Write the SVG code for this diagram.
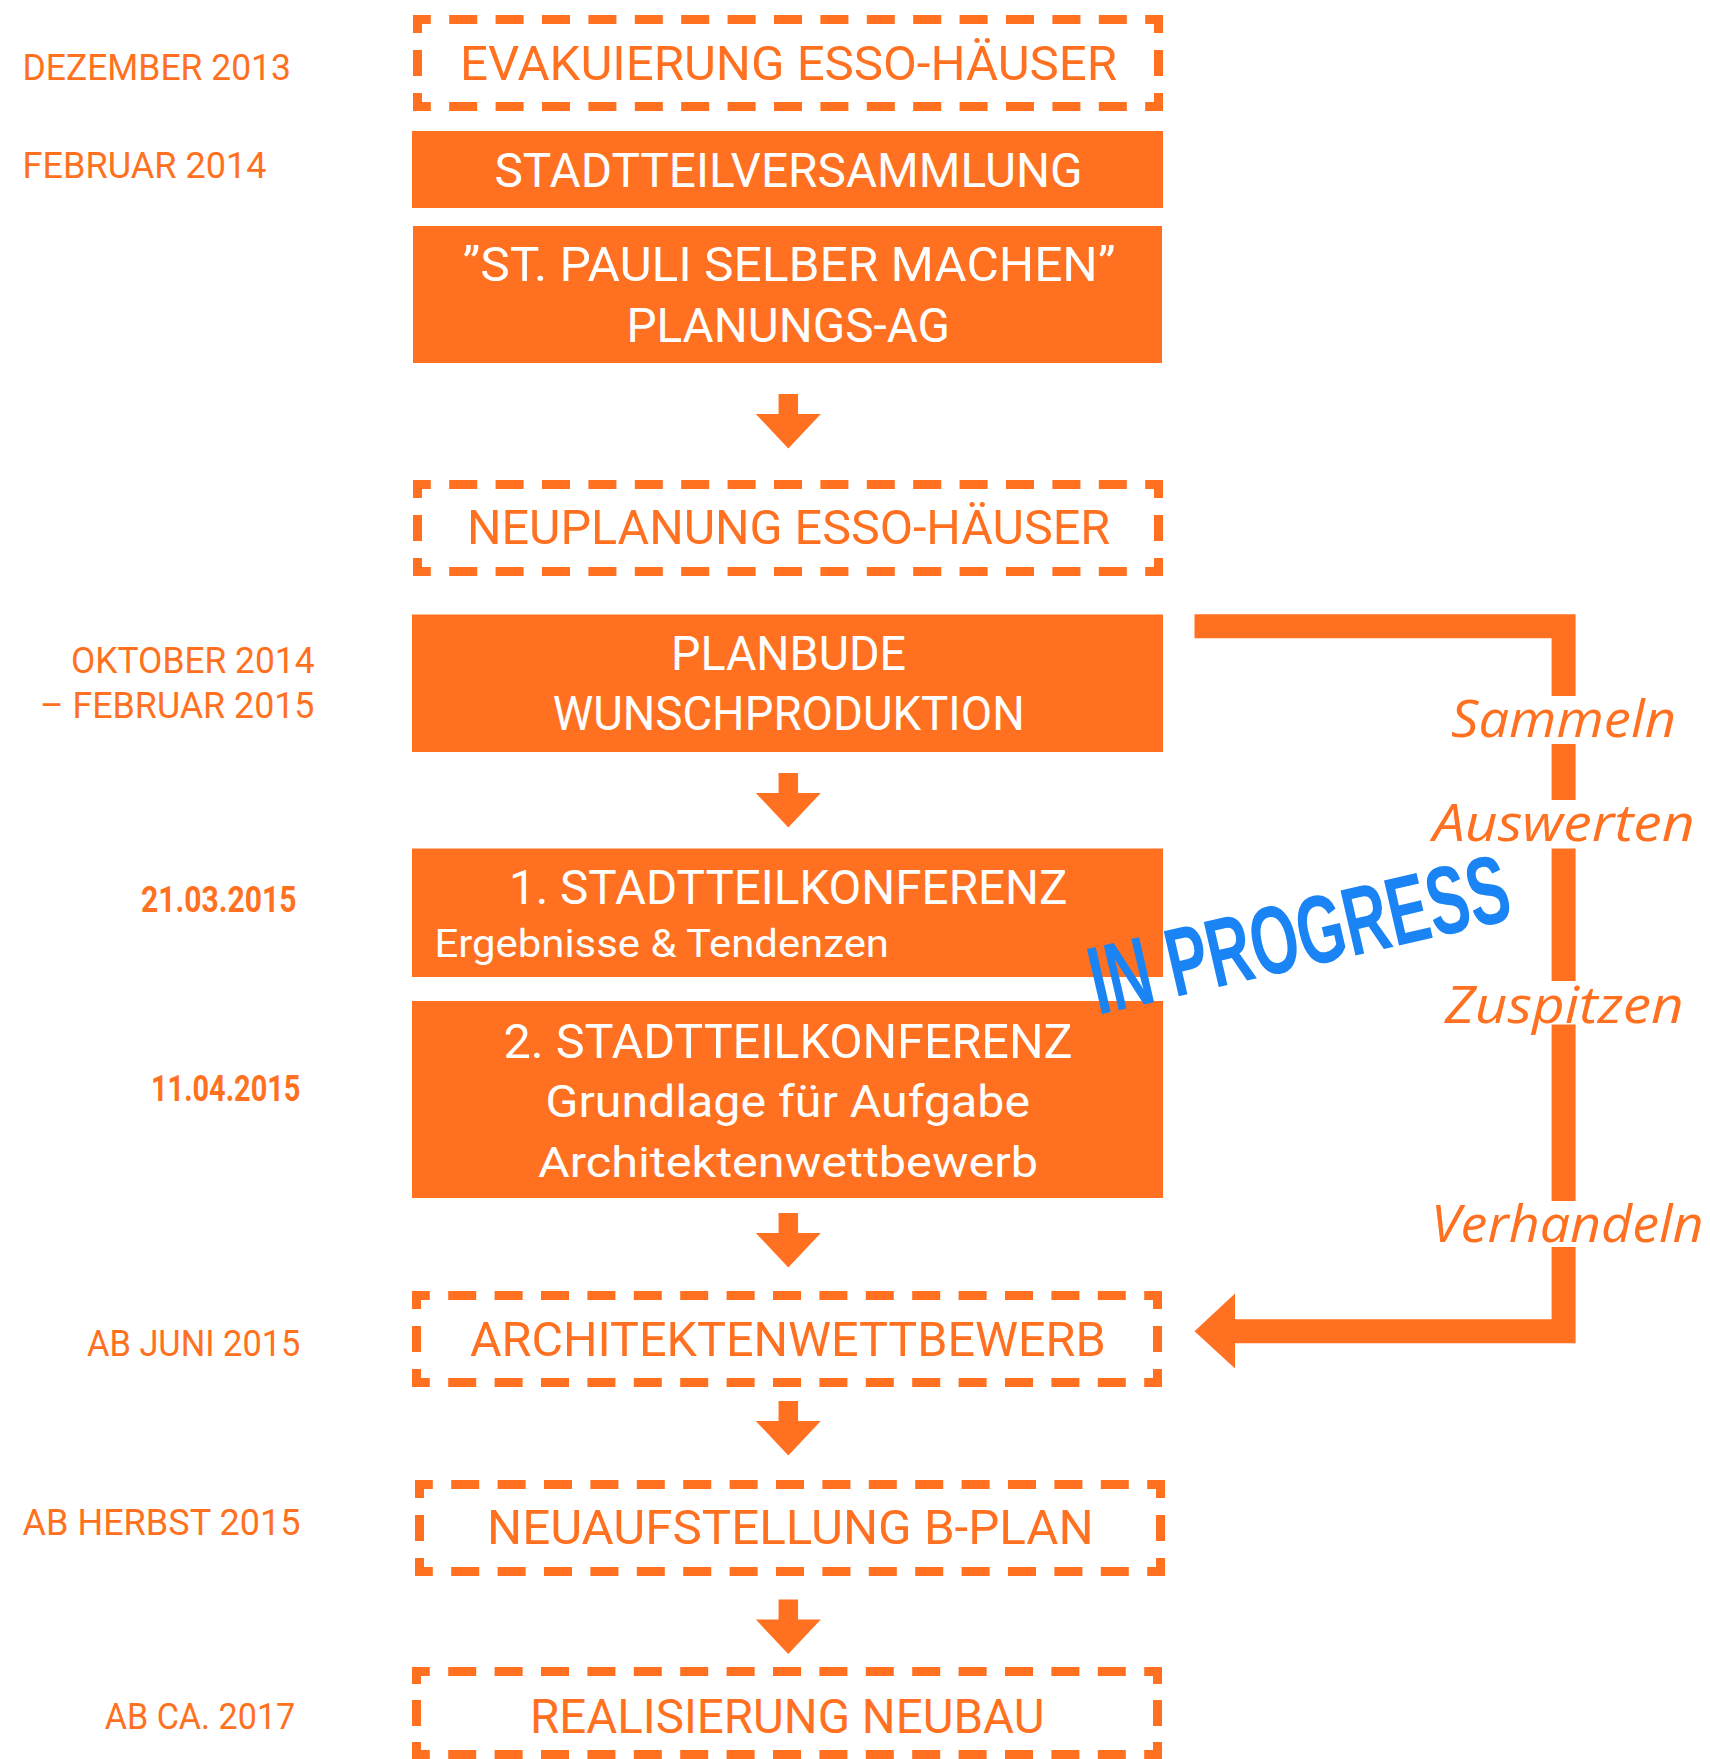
<svg xmlns="http://www.w3.org/2000/svg" xmlns:xlink="http://www.w3.org/1999/xlink" width="1710" height="1759" viewBox="0 0 1710 1759">
<style>
.box{fill:#FF7121}
.fr line{stroke:#FF7121;stroke-width:9;fill:none}
.h{stroke-dasharray:28 18.4;stroke-dashoffset:10.2}
.v{stroke-dasharray:18 17 26 17 18}
.t{font-family:Roboto,"Liberation Sans",sans-serif;font-size:48px}
.d{font-family:Roboto,"Liberation Sans",sans-serif;font-size:36px;fill:#FF7121}
.db{font-weight:bold}
.w{fill:#FFFFFF}
.o{fill:#FF7121}
.lab{font-family:"Open Sans","DejaVu Sans",sans-serif;font-style:italic;font-size:52px;fill:#FF7121}
.con{fill:none;stroke:#FF7121;stroke-width:24;stroke-linejoin:miter}
.arr{fill:#FF7121}
</style>
<defs>
<path id="arr" d="M-9.75,0 H9.75 V20 H32.5 L0,54.5 L-32.5,20 H-9.75 Z"/>
</defs>
<rect width="1710" height="1759" fill="#FFFFFF"/>

<g id="dates">
<text class="d" x="22.5" y="80" textLength="268.5" lengthAdjust="spacingAndGlyphs">DEZEMBER 2013</text>
<text class="d" x="22.5" y="178.3" textLength="244" lengthAdjust="spacingAndGlyphs">FEBRUAR 2014</text>
<text class="d" x="71" y="672.8" textLength="243.5" lengthAdjust="spacingAndGlyphs">OKTOBER 2014</text>
<text class="d" x="40" y="718" textLength="274.5" lengthAdjust="spacingAndGlyphs">– FEBRUAR 2015</text>
<text class="d db" x="141" y="912.4" textLength="155.4" lengthAdjust="spacingAndGlyphs">21.03.2015</text>
<text class="d db" x="151" y="1100.5" textLength="149.4" lengthAdjust="spacingAndGlyphs">11.04.2015</text>
<text class="d" x="87" y="1356.2" textLength="213.4" lengthAdjust="spacingAndGlyphs">AB JUNI 2015</text>
<text class="d" x="22.5" y="1535" textLength="278" lengthAdjust="spacingAndGlyphs">AB HERBST 2015</text>
<text class="d" x="104.7" y="1729.4" textLength="190.6" lengthAdjust="spacingAndGlyphs">AB CA. 2017</text>
</g>

<g id="n-evakuierung">
<g class="fr" transform="translate(413,15)">
<line class="h" x1="0" y1="4.5" x2="750" y2="4.5"/><line class="h" x1="0" y1="91.5" x2="750" y2="91.5"/>
<line class="v" x1="4.5" y1="0" x2="4.5" y2="96"/><line class="v" x1="745.5" y1="0" x2="745.5" y2="96"/>
</g>
<text class="t o" x="460" y="80.1" textLength="657" lengthAdjust="spacingAndGlyphs">EVAKUIERUNG ESSO-HÄUSER</text>
</g>

<g id="n-stadtteilversammlung">
<rect class="box" x="412" y="131" width="751" height="77"/>
<text class="t w" x="494.5" y="187" textLength="588" lengthAdjust="spacingAndGlyphs">STADTTEILVERSAMMLUNG</text>
</g>

<g id="n-planungs-ag">
<rect class="box" x="413" y="226" width="749" height="137"/>
<text class="t w" x="462.5" y="281" textLength="653" lengthAdjust="spacingAndGlyphs">”ST. PAULI SELBER MACHEN”</text>
<text class="t w" x="626.4" y="341.6" textLength="323.6" lengthAdjust="spacingAndGlyphs">PLANUNGS-AG</text>
</g>

<g id="n-neuplanung">
<g class="fr" transform="translate(413,480)">
<line class="h" x1="0" y1="4.5" x2="750" y2="4.5"/><line class="h" x1="0" y1="91.5" x2="750" y2="91.5"/>
<line class="v" x1="4.5" y1="0" x2="4.5" y2="96"/><line class="v" x1="745.5" y1="0" x2="745.5" y2="96"/>
</g>
<text class="t o" x="467" y="544.4" textLength="643" lengthAdjust="spacingAndGlyphs">NEUPLANUNG ESSO-HÄUSER</text>
</g>

<g id="n-planbude">
<rect class="box" x="412" y="614.5" width="751" height="137.5"/>
<text class="t w" x="671" y="670" textLength="235" lengthAdjust="spacingAndGlyphs">PLANBUDE</text>
<text class="t w" x="552.7" y="730" textLength="472" lengthAdjust="spacingAndGlyphs">WUNSCHPRODUKTION</text>
</g>

<g id="n-konferenz1">
<rect class="box" x="412" y="848.5" width="751" height="128.5"/>
<text class="t w" x="509" y="904" textLength="558.5" lengthAdjust="spacingAndGlyphs">1. STADTTEILKONFERENZ</text>
<text class="t w" x="434.5" y="956.8" style="font-size:39px" textLength="454.5" lengthAdjust="spacingAndGlyphs">Ergebnisse &amp; Tendenzen</text>
</g>

<g id="n-konferenz2">
<rect class="box" x="412" y="1001" width="751" height="197"/>
<text class="t w" x="503.6" y="1057.6" textLength="569" lengthAdjust="spacingAndGlyphs">2. STADTTEILKONFERENZ</text>
<text class="t w" x="545.5" y="1116.7" style="font-size:44px" textLength="484.5" lengthAdjust="spacingAndGlyphs">Grundlage für Aufgabe</text>
<text class="t w" x="538" y="1176.7" style="font-size:43px" textLength="500" lengthAdjust="spacingAndGlyphs">Architektenwettbewerb</text>
</g>

<g id="n-architektenwettbewerb">
<g class="fr" transform="translate(412,1291)">
<line class="h" x1="0" y1="4.5" x2="750" y2="4.5"/><line class="h" x1="0" y1="91.5" x2="750" y2="91.5"/>
<line class="v" x1="4.5" y1="0" x2="4.5" y2="96"/><line class="v" x1="745.5" y1="0" x2="745.5" y2="96"/>
</g>
<text class="t o" x="470" y="1356.2" textLength="635.6" lengthAdjust="spacingAndGlyphs">ARCHITEKTENWETTBEWERB</text>
</g>

<g id="n-bplan">
<g class="fr" transform="translate(415,1480)">
<line class="h" x1="0" y1="4.5" x2="750" y2="4.5"/><line class="h" x1="0" y1="91.5" x2="750" y2="91.5"/>
<line class="v" x1="4.5" y1="0" x2="4.5" y2="96"/><line class="v" x1="745.5" y1="0" x2="745.5" y2="96"/>
</g>
<text class="t o" x="487" y="1544.3" textLength="606.6" lengthAdjust="spacingAndGlyphs">NEUAUFSTELLUNG B-PLAN</text>
</g>

<g id="n-realisierung">
<g class="fr" transform="translate(412,1667)">
<line class="h" x1="0" y1="4.5" x2="750" y2="4.5"/><line class="h" x1="0" y1="87.5" x2="750" y2="87.5"/>
<line x1="4.5" y1="0" x2="4.5" y2="92" style="stroke-dasharray:17 16 26 16 17"/><line x1="745.5" y1="0" x2="745.5" y2="92" style="stroke-dasharray:17 16 26 16 17"/>
</g>
<text class="t o" x="530" y="1733.2" textLength="514.5" lengthAdjust="spacingAndGlyphs">REALISIERUNG NEUBAU</text>
</g>

<g id="connectors">
<use xlink:href="#arr" class="arr" transform="translate(788.3,394)"/>
<use xlink:href="#arr" class="arr" transform="translate(788.3,773)"/>
<use xlink:href="#arr" class="arr" transform="translate(788.3,1213)"/>
<use xlink:href="#arr" class="arr" transform="translate(788.3,1401)"/>
<use xlink:href="#arr" class="arr" transform="translate(788.3,1599.6)"/>
<path class="con" d="M1194.5,626.3 H1563.6 V696"/>
<path class="con" d="M1563.6,744 V800"/>
<path class="con" d="M1563.6,848.5 V981"/>
<path class="con" d="M1563.6,1024.5 V1201"/>
<path class="con" d="M1563.6,1247 V1331.2 H1234"/>
<polygon class="arr" points="1194.5,1331.2 1235,1293.4 1235,1368.6"/>
<text class="lab" x="1451" y="736.7" textLength="225" lengthAdjust="spacingAndGlyphs">Sammeln</text>
<text class="lab" x="1432.7" y="841.3" textLength="262" lengthAdjust="spacingAndGlyphs">Auswerten</text>
<text class="lab" x="1444.7" y="1022.7" textLength="239" lengthAdjust="spacingAndGlyphs">Zuspitzen</text>
<text class="lab" x="1431" y="1241.5" textLength="272.6" lengthAdjust="spacingAndGlyphs">Verhandeln</text>
</g>

<g id="stamp">
<text transform="translate(1098,1015) rotate(-13)" x="0" y="0" font-family="'Liberation Sans',Arial,sans-serif" font-weight="bold" font-size="97" fill="#1A84F4" textLength="428" lengthAdjust="spacingAndGlyphs">IN PROGRESS</text>
</g>
</svg>
